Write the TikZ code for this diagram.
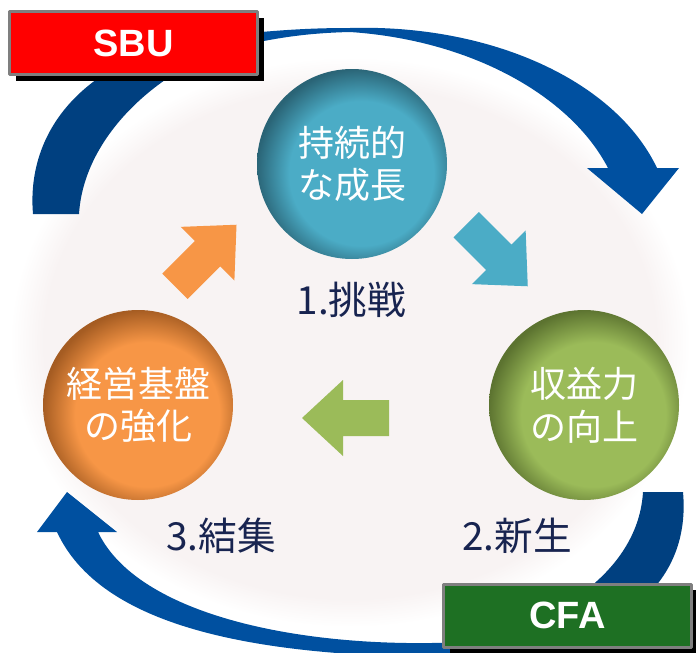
\documentclass[tikz,border=0pt]{standalone}
\usepackage{fontspec}
\newfontfamily\jpfont{Noto Sans CJK JP}
\newfontfamily\tagfont{Liberation Sans}
\usetikzlibrary{shadows}
\definecolor{tealc}{RGB}{75,172,198}
\definecolor{tealdark}{RGB}{42,100,118}
\definecolor{greenc}{RGB}{155,187,89}
\definecolor{greendark}{RGB}{92,115,48}
\definecolor{orangec}{RGB}{247,150,70}
\definecolor{orangedark}{RGB}{165,92,34}
\definecolor{arcblue}{RGB}{0,80,160}
\definecolor{arcdark}{RGB}{0,64,128}
\definecolor{sbured}{RGB}{255,0,0}
\definecolor{cfagreen}{RGB}{30,112,35}
\definecolor{tagborder}{RGB}{127,127,127}
\definecolor{navy}{RGB}{24,36,80}
\definecolor{bgpink}{RGB}{248,243,243}
\pgfdeclareradialshading{tealball}{\pgfpoint{4bp}{-4bp}}{color(0bp)=(tealc); color(19bp)=(tealc); color(27bp)=(tealdark); color(50bp)=(tealdark)}
\pgfdeclareradialshading{greenball}{\pgfpoint{4bp}{-4bp}}{color(0bp)=(greenc); color(19bp)=(greenc); color(27bp)=(greendark); color(50bp)=(greendark)}
\pgfdeclareradialshading{orangeball}{\pgfpoint{4bp}{-4bp}}{color(0bp)=(orangec); color(19bp)=(orangec); color(27bp)=(orangedark); color(50bp)=(orangedark)}
\pgfdeclareradialshading{glow}{\pgfpoint{0bp}{0bp}}{color(0bp)=(bgpink); color(22.5bp)=(bgpink); color(25bp)=(white); color(50bp)=(white)}
\tikzset{
	ball/.style={circle, shade, inner sep=0pt, minimum size=142.5pt, align=center, text=white, font=\jpfont\fontsize{27}{32}\selectfont},
	stagelabel/.style={text=navy, font=\jpfont\fontsize{29}{34}\selectfont},
	tag/.style={draw=tagborder, line width=2.25pt, minimum width=186pt, minimum height=47.25pt, text=white, font=\tagfont\bfseries\fontsize{28.5}{32}\selectfont, general shadow={fill=black, shadow xshift=4.5pt, shadow yshift=-4.5pt}}
}
\begin{document}
\begin{tikzpicture}[x=0.75pt, y=-0.75pt, line join=round]
	\useasboundingbox (0,0) rectangle (696,653);
	\shade[shading=glow] (350,342) ellipse [x radius=340, y radius=285];
	\fill[arcdark] (33,214) .. controls (25,120) and (100,40) .. (250,33) -- (250,45) .. controls (190,50) and (85,120) .. (79,214) -- cycle;
	\fill[arcblue] (240,34) .. controls (290,29) and (320,28) .. (350,28) .. controls (490,24) and (615,80) .. (657,168) -- (679,168) -- (642,214) -- (587,168) -- (608,168) .. controls (570,95) and (470,40) .. (350,32) .. controls (310,33) and (280,37) .. (240,46) -- cycle;
	\fill[arcdark] (643,492) -- (683,492) .. controls (690,570) and (640,625) .. (540,650) -- (470,655) -- (470,641) -- (500,635) .. controls (600,600) and (640,545) .. (643,492) -- cycle;
	\fill[arcblue] (480,641) .. controls (320,652) and (140,620) .. (98,532) -- (117,532) -- (67,492) -- (37,532) -- (57,532) .. controls (100,625) and (250,660) .. (480,657) -- cycle;
	\node[tag, fill=sbured] (sbu) at (133.5,43) {SBU};
	\node[tag, fill=cfagreen] (cfa) at (567.5,615.5) {CFA};
	\node[ball, shading=tealball] (growth) at (352,164) {持続的\\な成長};
	\node[ball, shading=greenball] (profit) at (584,405) {収益力\\の向上};
	\node[ball, shading=orangeball] (base) at (138,405) {経営基盤\\の強化};
	\path
	(205.75,255.5) coordinate (up)
	(497,255.5) coordinate (down)
	(345.5,418) coordinate (back)
	;
	\foreach \p/\a/\c in {up/45/orangec,down/-45/tealc,back/180/greenc}
	\fill[\c, shift={(\p)}, rotate=\a] (-43.5,-18) -- (2.5,-18) -- (2.5,-38) -- (43.5,0) -- (2.5,38) -- (2.5,18) -- (-43.5,18) -- cycle;
	\node[stagelabel] (challenge) at (351.5,300) {1.挑戦};
	\node[stagelabel] (renewal) at (517,536) {2.新生};
	\node[stagelabel] (unity) at (221,536) {3.結集};
\end{tikzpicture}
\end{document}
